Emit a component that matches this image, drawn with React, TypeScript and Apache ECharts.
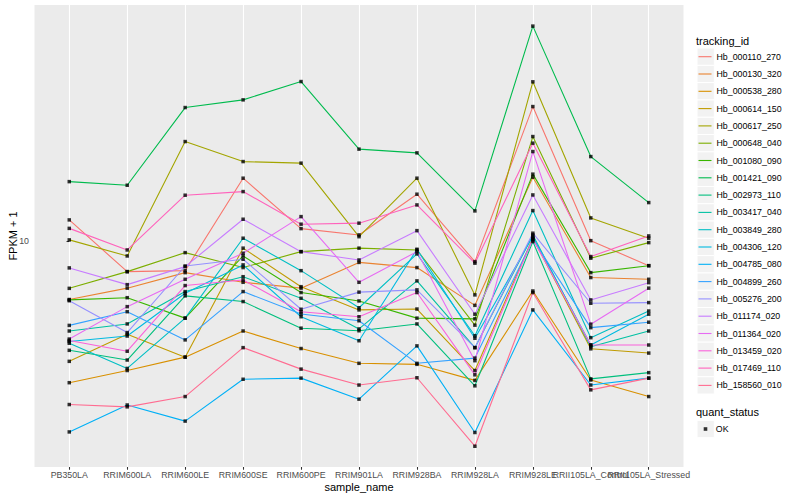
import React, { useEffect, useRef } from "react";
import * as echarts from "echarts";

const sampleNames = [
  "PB350LA", "RRIM600LA", "RRIM600LE", "RRIM600SE", "RRIM600PE", "RRIM901LA",
  "RRIM928BA", "RRIM928LA", "RRIM928LE", "RRII105LA_Control", "RRII105LA_Stressed",
];

const trackingIds = [
  "Hb_000110_270", "Hb_000130_320", "Hb_000538_280", "Hb_000614_150", "Hb_000617_250",
  "Hb_000648_040", "Hb_001080_090", "Hb_001421_090", "Hb_002973_110", "Hb_003417_040",
  "Hb_003849_280", "Hb_004306_120", "Hb_004785_080", "Hb_004899_260", "Hb_005276_200",
  "Hb_011174_020", "Hb_011364_020", "Hb_013459_020", "Hb_017469_110", "Hb_158560_010",
];

const trackingColors = [
  "#F8766D", "#EA8331", "#D89000", "#C09B00", "#A3A500", "#7CAE00", "#39B600", "#00BB4E",
  "#00BF7D", "#00C1A3", "#00BFC4", "#00BAE0", "#00B0F6", "#35A2FF", "#9590FF", "#C77CFF",
  "#E76BF3", "#FA62DB", "#FF62BC", "#FF6C91",
];

// FPKM + 1 values, one per sample_name
const hb000110270 = [11.75, 7.9, 7.96, 16.18, 10.99, 10.47, 14.31, 8.53, 28.03, 10.02, 8.27];
const hb000130320 = [6.38, 6.96, 7.84, 7.28, 6.96, 8.48, 8.15, 6.1, 16.31, 7.55, 7.45];
const hb000538280 = [3.37, 3.7, 4.1, 5.01, 4.38, 3.91, 3.88, 3.43, 6.81, 3.44, 3.03];
const hb000614150 = [3.97, 4.89, 4.1, 9.46, 7.04, 5.89, 5.93, 3.7, 10.23, 4.37, 4.23];
const hb000617250 = [10.08, 8.91, 21.43, 18.38, 18.16, 10.33, 16.18, 6.61, 33.89, 11.93, 10.21];
const hb000648040 = [6.95, 7.9, 9.14, 8.15, 9.21, 9.46, 9.33, 5.24, 22.27, 8.76, 9.87];
const hb001080090 = [6.36, 6.47, 5.53, 8.91, 6.73, 6.31, 5.53, 5.5, 16.69, 7.84, 8.27];
const hb001421090 = [15.76, 15.33, 27.82, 29.51, 33.96, 20.22, 19.65, 12.59, 51.96, 19.1, 13.42];
const hb002973110 = [4.32, 4.01, 6.56, 6.28, 5.12, 5.02, 5.29, 3.29, 9.95, 3.47, 3.64];
const hb003417040 = [5.01, 5.29, 6.78, 7.6, 6.44, 5.09, 7.36, 4.41, 10.47, 4.44, 5.01];
const hb003849280 = [4.56, 3.76, 5.53, 10.21, 7.96, 5.99, 9.05, 4.83, 12.62, 4.76, 5.84];
const hb004306120 = [4.62, 4.82, 6.69, 8.32, 5.59, 4.65, 9.38, 4.74, 10.35, 4.5, 5.7];
const hb004785080 = [2.31, 2.84, 2.51, 3.46, 3.49, 2.97, 4.47, 2.3, 5.89, 3.31, 3.49];
const hb004899260 = [5.23, 5.81, 4.68, 6.78, 5.71, 5.42, 3.91, 4.07, 10.08, 5.14, 5.36];
const hb005276200 = [6.32, 4.95, 8.25, 8.69, 5.92, 6.75, 6.87, 4.41, 10.61, 6.2, 6.23];
const hb011174020 = [8.13, 7.15, 8.21, 11.81, 9.21, 8.64, 10.82, 5.7, 14.23, 6.36, 7.26];
const hb011364020 = [4.71, 6.04, 7.45, 9.1, 12.05, 7.28, 9.21, 3.99, 19.85, 5.28, 6.96];
const hb013459020 = [4.66, 4.29, 7.1, 7.41, 5.81, 5.59, 6.73, 3.58, 10.15, 4.5, 4.5];
const hb017469110 = [11.01, 9.33, 14.2, 14.6, 11.37, 11.46, 13.18, 8.43, 21.17, 8.87, 10.39];
const hb158560010 = [2.85, 2.8, 3.03, 4.41, 3.74, 3.31, 3.5, 2.07, 6.73, 3.19, 3.49];

const trackingValues = [
  hb000110270, hb000130320, hb000538280, hb000614150, hb000617250, hb000648040,
  hb001080090, hb001421090, hb002973110, hb003417040, hb003849280, hb004306120,
  hb004785080, hb004899260, hb005276200, hb011174020, hb011364020, hb013459020,
  hb017469110, hb158560010,
];

const yTickValues = [10];
const quantStatus = ["OK"];

const FONT = '"Liberation Sans", Arial, Helvetica, sans-serif';

export default function App() {
  const ref = useRef<HTMLDivElement>(null);

  useEffect(() => {
    if (!ref.current) return;
    const chart = echarts.init(ref.current, null, { renderer: "svg" });

    const xIdx = sampleNames.map((_, i) => i);
    const evenIdx = xIdx.filter((i) => i % 2 === 0);
    const oddIdx = xIdx.filter((i) => i % 2 === 1);

    const lineSeries = trackingIds.map((id, s) => ({
      name: id,
      type: "line",
      xAxisIndex: 0,
      data: trackingValues[s].map((v, i) => [i, v]),
      color: trackingColors[s],
      lineStyle: { width: 1.1, color: trackingColors[s] },
      symbol: "none",
      z: 2,
    }));

    const pointData: number[][] = [];
    trackingValues.forEach((vals) => vals.forEach((v, i) => pointData.push([i, v])));

    const keyBoxes = trackingIds.map((_, i) => ({
      type: "rect",
      shape: { x: 697, y: 48.05 + i * 17.3, width: 17.3, height: 17.3 },
      style: { fill: "#F2F2F2", stroke: "#FFFFFF", lineWidth: 1 },
      z: 0,
    }));

    const labelCommon = {
      formatter: (v: number) => sampleNames[Math.round(v)] ?? "",
      fontSize: 8.8,
      color: "#4D4D4D",
      fontFamily: FONT,
      margin: 3,
      hideOverlap: false,
      showMinLabel: true,
      showMaxLabel: true,
    };

    const option: any = {
      animation: false,
      backgroundColor: "#FFFFFF",
      textStyle: { fontFamily: FONT },
      grid: {
        left: 34.5,
        right: 116.5,
        top: 5,
        bottom: 33,
        show: true,
        backgroundColor: "#EBEBEB",
        borderWidth: 0,
        containLabel: false,
        outerBoundsMode: "none",
      },
      xAxis: [
        {
          type: "value",
          min: -0.6,
          max: 10.6,
          position: "bottom",
          name: "sample_name",
          nameLocation: "middle",
          nameGap: 14,
          nameMoveOverlap: false,
          nameTextStyle: { fontSize: 11, color: "#000", fontFamily: FONT, verticalAlign: "top" },
          axisLine: { show: false },
          axisTick: { show: true, customValues: xIdx, length: 2.75, lineStyle: { color: "#333333", width: 1.07 } },
          axisLabel: { ...labelCommon, customValues: evenIdx },
          splitLine: { show: true, lineStyle: { color: "#FFFFFF", width: 1.1 } },
        },
        {
          type: "value",
          min: -0.6,
          max: 10.6,
          position: "bottom",
          offset: 0,
          axisLine: { show: false },
          axisTick: { show: false, customValues: oddIdx },
          axisLabel: { ...labelCommon, customValues: oddIdx },
          splitLine: { show: false },
        },
      ],
      yAxis: {
        type: "log",
        logBase: 10,
        min: 1.765,
        max: 61.1,
        name: "FPKM + 1",
        nameLocation: "middle",
        nameGap: 16,
        nameMoveOverlap: false,
        nameTextStyle: { fontSize: 11, color: "#000", fontFamily: FONT },
        axisLine: { show: false },
        axisTick: { show: true, customValues: yTickValues, length: 2.75, lineStyle: { color: "#333333", width: 1.07 } },
        axisLabel: {
          customValues: yTickValues,
          formatter: (v: number) => String(Math.round(v)),
          fontSize: 8.8,
          color: "#4D4D4D",
          fontFamily: FONT,
          margin: 5.5,
          hideOverlap: false,
        },
        splitLine: { show: true, showMinLine: false, showMaxLine: false, lineStyle: { color: "#FFFFFF", width: 1.1 } },
      },
      legend: [
        {
          orient: "vertical",
          left: 698.5,
          top: 50.7,
          padding: 0,
          itemGap: 5.3,
          itemWidth: 13,
          itemHeight: 1.1,
          icon: "rect",
          selectedMode: false,
          data: trackingIds,
          textStyle: { fontSize: 8.8, color: "#000", fontFamily: FONT, lineHeight: 12 },
        },
        {
          orient: "vertical",
          left: 703.7,
          top: 423,
          padding: 0,
          itemWidth: 3.6,
          itemHeight: 3.6,
          icon: "rect",
          selectedMode: false,
          data: quantStatus,
          textStyle: { fontSize: 8.8, color: "#000", fontFamily: FONT, lineHeight: 12, padding: [0, 0, 0, 3.5] },
        },
      ],
      graphic: {
        elements: [
          ...keyBoxes,
          {
            type: "rect",
            shape: { x: 697, y: 420.35, width: 17.3, height: 17.3 },
            style: { fill: "#F2F2F2", stroke: "#FFFFFF", lineWidth: 1 },
            z: 0,
          },
          {
            type: "text",
            x: 696,
            y: 40.7,
            style: { text: "tracking_id", fontSize: 11, fontFamily: FONT, fill: "#000", verticalAlign: "middle", align: "left" },
          },
          {
            type: "text",
            x: 696,
            y: 412.3,
            style: { text: "quant_status", fontSize: 11, fontFamily: FONT, fill: "#000", verticalAlign: "middle", align: "left" },
          },
        ],
      },
      series: [
        ...lineSeries,
        {
          name: quantStatus[0],
          type: "scatter",
          xAxisIndex: 0,
          data: pointData,
          symbol: "rect",
          symbolSize: 3.5,
          itemStyle: { color: "#000000" },
          z: 5,
        },
      ],
    };

    chart.setOption(option);
    return () => chart.dispose();
  }, []);

  return (
    <div
      ref={ref}
      style={{ position: "absolute", left: 0, top: 0, width: 800, height: 500 }}
    />
  );
}
